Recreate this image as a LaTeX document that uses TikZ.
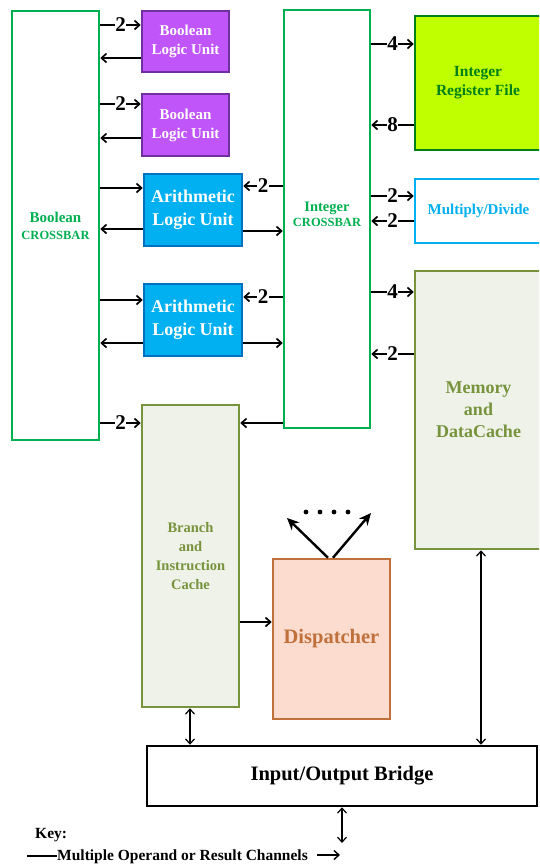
\documentclass[tikz,border=0pt]{standalone}
\usepackage{fontspec}
\setmainfont{Liberation Serif}
\usetikzlibrary{arrows.meta}
\definecolor{xgreen}{HTML}{00B050}
\definecolor{blufill}{HTML}{C056FA}
\definecolor{bluborder}{HTML}{7030A0}
\definecolor{alufill}{HTML}{00B0F0}
\definecolor{aluborder}{HTML}{0070C0}
\definecolor{irffill}{HTML}{BFFF00}
\definecolor{irfborder}{HTML}{008018}
\definecolor{olive}{HTML}{77933C}
\definecolor{olivefill}{HTML}{EEF2E8}
\definecolor{dispfill}{HTML}{FBDCCF}
\definecolor{dispborder}{HTML}{C0703A}
\newcommand{\fsz}[2]{\fontsize{#1}{#2}\selectfont}
\tikzset{
  box/.style={draw, line width=2.5pt, inner sep=0pt, align=center, font=\bfseries},
  conn/.style={line width=1.7pt, -{Straight Barb[length=5pt,width=9pt,line width=1.7pt]}},
  dconn/.style={line width=1.2pt, {Straight Barb[length=5pt,width=9pt,line width=1.2pt]}-{Straight Barb[length=5pt,width=9pt,line width=1.2pt]}},
  fan/.style={line width=2.4pt, -{Stealth[length=12pt,width=11pt]}},
  num/.style={fill=white, inner sep=0.6pt, font=\bfseries\fsz{21}{21}},
}
\begin{document}
\begin{tikzpicture}[x=1pt,y=-1pt]
\clip (0,0) rectangle (539,865);
\fill[white] (0,0) rectangle (539,865);
% boxes
\node[box, draw=xgreen, fill=white, text=xgreen, minimum width=87pt, minimum height=429pt, font=\bfseries\fsz{15}{17}] (bcross) at (55.5,225.5) {Boolean\\{\fsz{12.5}{17}CROSSBAR}};
\node[box, draw=bluborder, fill=blufill, text=white, minimum width=87pt, minimum height=61pt, font=\bfseries\fsz{15}{19}] (blu1) at (185.5,41.5) {Boolean\\Logic Unit};
\node[box, draw=bluborder, fill=blufill, text=white, minimum width=87pt, minimum height=62pt, font=\bfseries\fsz{15}{19}] (blu2) at (185.5,125) {Boolean\\Logic Unit};
\node[box, draw=aluborder, fill=alufill, text=white, minimum width=98pt, minimum height=72pt, font=\bfseries\fsz{18}{23}] (alu1) at (193,210) {Arithmetic\\Logic Unit};
\node[box, draw=aluborder, fill=alufill, text=white, minimum width=98pt, minimum height=72pt, font=\bfseries\fsz{18}{23}] (alu2) at (193,320) {Arithmetic\\Logic Unit};
\node[box, draw=xgreen, fill=white, text=xgreen, minimum width=86pt, minimum height=418pt, font=\bfseries\fsz{14.5}{16}] (icross) at (327,219) {\raisebox{10pt}{\shortstack{Integer\\[1pt]{\fsz{12.5}{16}CROSSBAR}}}};
\node[box, draw=irfborder, fill=irffill, text=irfborder, minimum width=126pt, minimum height=134pt, font=\bfseries\fsz{15.5}{19}] (irf) at (478,83) {Integer\\Register File};
\node[box, draw=alufill, fill=white, text=alufill, minimum width=127pt, minimum height=64pt, font=\bfseries\fsz{15}{19}] (muldiv) at (478.5,211) {Multiply/Divide};
\node[box, draw=olive, fill=olivefill, text=olive, minimum width=127pt, minimum height=278pt, font=\bfseries\fsz{18}{22}] (mem) at (478.5,410) {Memory\\and\\DataCache};
\node[box, draw=olive, fill=olivefill, text=olive, minimum width=97pt, minimum height=302pt, font=\bfseries\fsz{14.5}{19}] (branch) at (190.5,556) {Branch\\and\\Instruction\\Cache};
\node[box, draw=dispborder, fill=dispfill, text=dispborder, minimum width=117pt, minimum height=160pt, font=\bfseries\fsz{20.5}{24}] (disp) at (331.5,639) {Dispatcher};
\node[box, draw=black, fill=white, text=black, minimum width=390pt, minimum height=60pt, font=\bfseries\fsz{20.5}{24}] (io) at (342,776) {Input/Output Bridge};
% Boolean crossbar connections
\draw[conn] (bcross.east |- 0,25) -- node[num]{2} (blu1.west |- 0,25);
\draw[conn] (blu1.west |- 0,58) -- (bcross.east |- 0,58);
\draw[conn] (bcross.east |- 0,104) -- node[num]{2} (blu2.west |- 0,104);
\draw[conn] (blu2.west |- 0,138) -- (bcross.east |- 0,138);
\draw[conn] (bcross.east |- 0,188) -- (alu1.west |- 0,188);
\draw[conn] (alu1.west |- 0,229) -- (bcross.east |- 0,229);
\draw[conn] (bcross.east |- 0,300) -- (alu2.west |- 0,300);
\draw[conn] (alu2.west |- 0,343) -- (bcross.east |- 0,343);
\draw[conn] (bcross.east |- 0,423) -- node[num]{2} (branch.west |- 0,423);
% Integer crossbar connections (left)
\draw[conn] (icross.west |- 0,186) -- node[num]{2} (alu1.east |- 0,186);
\draw[conn] (alu1.east |- 0,231) -- (icross.west |- 0,231);
\draw[conn] (icross.west |- 0,297) -- node[num]{2} (alu2.east |- 0,297);
\draw[conn] (alu2.east |- 0,343) -- (icross.west |- 0,343);
\draw[conn] (icross.west |- 0,423) -- (branch.east |- 0,423);
% Integer crossbar connections (right)
\draw[conn] (icross.east |- 0,44) -- node[num]{4} (irf.west |- 0,44);
\draw[conn] (irf.west |- 0,125) -- node[num]{8} (icross.east |- 0,125);
\draw[conn] (icross.east |- 0,196) -- node[num]{2} (muldiv.west |- 0,196);
\draw[conn] (muldiv.west |- 0,221) -- node[num]{2} (icross.east |- 0,221);
\draw[conn] (icross.east |- 0,292) -- node[num]{4} (mem.west |- 0,292);
\draw[conn] (mem.west |- 0,354) -- node[num]{2} (icross.east |- 0,354);
% branch to dispatcher
\draw[conn, line width=1.4pt] (branch.east |- 0,622) -- (disp.west |- 0,622);
% dispatcher fan-out
\coordinate (fl) at (287,518);
\coordinate (fr) at (371,513);
\draw[fan] (disp.north -| 328,0) -- (fl);
\draw[fan] (disp.north -| 333,0) -- (fr);
\foreach \dx in {306,320,334,348} \fill (\dx,512) circle (2.4pt);
% links to I/O bridge
\draw[dconn] (branch.south -| 190,0) -- (io.north -| 190,0);
\draw[dconn] (mem.south -| 481,0) -- (io.north -| 481,0);
\coordinate (iobot) at (342,843);
\draw[dconn] (io.south -| 342,0) -- (iobot);
% key
\node[font=\bfseries\fsz{15.5}{18}, anchor=west, inner sep=0pt] (key) at (35,835) {Key:};
\node[font=\bfseries\fsz{15.5}{18}, anchor=west, inner sep=0pt] (keytxt) at (57,857) {Multiple Operand or Result Channels};
\coordinate (kl) at (27,856);
\draw[line width=1.2pt] (kl) -- (keytxt.west |- kl);
\coordinate (ka) at (317,855);
\coordinate (kb) at (340,855);
\draw[line width=1.4pt, -{Straight Barb[length=5pt,width=9pt,line width=1.4pt]}] (ka) -- (kb);
\end{tikzpicture}
\end{document}
